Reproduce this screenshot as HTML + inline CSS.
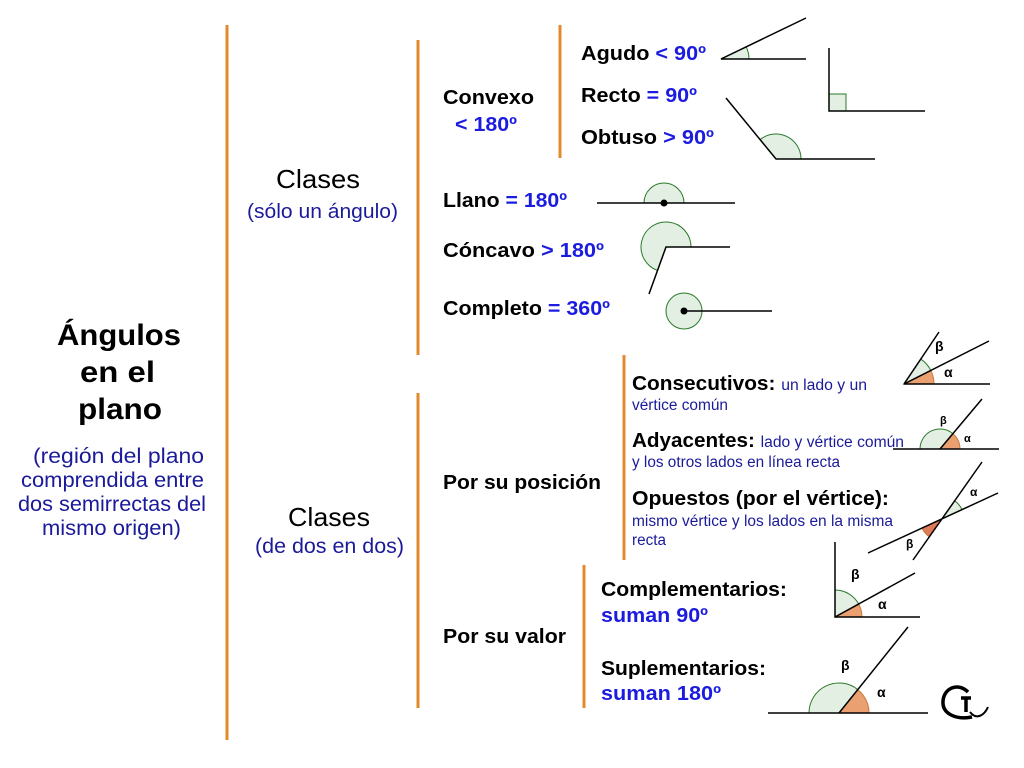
<!DOCTYPE html>
<html><head><meta charset="utf-8"><style>
html,body{margin:0;padding:0;background:#fff;}
svg{display:block}
text{font-family:"Liberation Sans",Arial,sans-serif}
.b{font-weight:bold;fill:#000;font-size:20.5px}
.v{font-weight:bold;fill:#1c1ce0}
.n{fill:#1a1a9a}
</style></head><body>
<svg width="1024" height="768" viewBox="0 0 1024 768" xmlns="http://www.w3.org/2000/svg">
<rect width="1024" height="768" fill="#fff"/>
<g stroke="#e08a2c" stroke-width="3" fill="none">
<line x1="227" y1="25" x2="227" y2="740"/>
<line x1="418" y1="40" x2="418" y2="355"/>
<line x1="418" y1="393" x2="418" y2="708"/>
<line x1="560" y1="25" x2="560" y2="158"/>
<line x1="624" y1="355" x2="624" y2="560"/>
<line x1="584" y1="565" x2="584" y2="708"/>
</g>
<text x="57" y="345" font-size="30" font-weight="bold" textLength="124" lengthAdjust="spacingAndGlyphs">Ángulos</text>
<text x="80" y="382" font-size="30" font-weight="bold" textLength="75" lengthAdjust="spacingAndGlyphs">en el</text>
<text x="78" y="419" font-size="30" font-weight="bold" textLength="84" lengthAdjust="spacingAndGlyphs">plano</text>
<text x="33" y="463" font-size="21" class="n" textLength="171" lengthAdjust="spacingAndGlyphs">(región del plano</text>
<text x="21" y="487" font-size="21" class="n" textLength="183" lengthAdjust="spacingAndGlyphs">comprendida entre</text>
<text x="18" y="511" font-size="21" class="n" textLength="188" lengthAdjust="spacingAndGlyphs">dos semirrectas del</text>
<text x="42" y="535" font-size="21" class="n" textLength="139" lengthAdjust="spacingAndGlyphs">mismo origen)</text>
<text x="276" y="188" font-size="26" textLength="84" lengthAdjust="spacingAndGlyphs">Clases</text>
<text x="247" y="218" font-size="20" class="n" textLength="151" lengthAdjust="spacingAndGlyphs">(sólo un ángulo)</text>
<text x="288" y="526" font-size="26" textLength="82" lengthAdjust="spacingAndGlyphs">Clases</text>
<text x="255" y="553" font-size="21" class="n" textLength="149" lengthAdjust="spacingAndGlyphs">(de dos en dos)</text>
<text x="443" y="104" class="b" textLength="91" lengthAdjust="spacingAndGlyphs">Convexo</text>
<text x="455" y="131" font-size="20.5" class="v" textLength="62" lengthAdjust="spacingAndGlyphs">&lt; 180º</text>
<text x="581" y="60" class="b" textLength="125" lengthAdjust="spacingAndGlyphs">Agudo <tspan class="v">&lt; 90º</tspan></text>
<text x="581" y="102" class="b" textLength="116" lengthAdjust="spacingAndGlyphs">Recto <tspan class="v">= 90º</tspan></text>
<text x="581" y="144" class="b" textLength="133" lengthAdjust="spacingAndGlyphs">Obtuso <tspan class="v">&gt; 90º</tspan></text>
<text x="443" y="207" class="b" textLength="124" lengthAdjust="spacingAndGlyphs">Llano <tspan class="v">= 180º</tspan></text>
<text x="443" y="257" class="b" textLength="161" lengthAdjust="spacingAndGlyphs">Cóncavo <tspan class="v">&gt; 180º</tspan></text>
<text x="443" y="315" class="b" textLength="167" lengthAdjust="spacingAndGlyphs">Completo <tspan class="v">= 360º</tspan></text>
<text x="632" y="390" class="b" textLength="235" lengthAdjust="spacingAndGlyphs">Consecutivos: <tspan font-size="15.5" font-weight="normal" class="n">un lado y un</tspan></text>
<text x="632" y="410" font-size="15.5" class="n" textLength="96" lengthAdjust="spacingAndGlyphs">vértice común</text>
<text x="632" y="447" class="b" textLength="272" lengthAdjust="spacingAndGlyphs">Adyacentes: <tspan font-size="15.5" font-weight="normal" class="n">lado y vértice común</tspan></text>
<text x="632" y="467" font-size="15.5" class="n" textLength="208" lengthAdjust="spacingAndGlyphs">y los otros lados en línea recta</text>
<text x="632" y="505" class="b" textLength="257" lengthAdjust="spacingAndGlyphs">Opuestos (por el vértice):</text>
<text x="632" y="526" font-size="15.5" class="n" textLength="261" lengthAdjust="spacingAndGlyphs">mismo vértice y los lados en la misma</text>
<text x="632" y="545" font-size="15.5" class="n" textLength="34" lengthAdjust="spacingAndGlyphs">recta</text>
<text x="443" y="489" class="b" textLength="158" lengthAdjust="spacingAndGlyphs">Por su posición</text>
<text x="443" y="643" class="b" textLength="123" lengthAdjust="spacingAndGlyphs">Por su valor</text>
<text x="601" y="596" class="b" textLength="186" lengthAdjust="spacingAndGlyphs">Complementarios:</text>
<text x="601" y="622" font-size="20.5" class="v" textLength="107" lengthAdjust="spacingAndGlyphs">suman 90º</text>
<text x="601" y="675" class="b" textLength="165" lengthAdjust="spacingAndGlyphs">Suplementarios:</text>
<text x="601" y="700" font-size="20.5" class="v" textLength="120" lengthAdjust="spacingAndGlyphs">suman 180º</text>

<g stroke="#2a7a2a" stroke-width="1" fill="#e3efe3">
<path d="M721,59 L749,59 A28,28 0 0 0 746.2,46.8 Z"/>
<rect x="829" y="94" width="17" height="17"/>
<path d="M776,159 L801,159 A25,25 0 0 0 760.2,139.6 Z"/>
<path d="M644,203 A20,20 0 0 1 684,203 Z"/>
<path d="M666,247 L691,247 A25,25 0 1 0 657.5,270.5 Z"/>
<circle cx="684" cy="311" r="18"/>
<path d="M904,384 L930.8,370.5 A30,30 0 0 0 920.8,359.1 Z"/>
<path d="M940,449 L952.9,433.7 A20,20 0 0 0 920,449 Z"/>
<path d="M942,518.8 L962,509.6 A22,22 0 0 0 954.7,500.8 Z"/>
<path d="M835,617 L859,604.6 A27,27 0 0 0 835,590 Z"/>
<path d="M839,713 L857.8,689.6 A30,30 0 0 0 809,713 Z"/>
</g>
<g stroke="#c87a3a" stroke-width="1" fill="#eaa070">
<path d="M904,384 L934,384 A30,30 0 0 0 930.8,370.5 Z"/>
<path d="M940,449 L960,449 A20,20 0 0 0 952.9,433.7 Z"/>
<path d="M942,518.8 L922,528 A22,22 0 0 0 929.3,536.8 Z" fill="#e07a5a"/>
<path d="M835,617 L862,617 A27,27 0 0 0 859,604.6 Z"/>
<path d="M839,713 L869,713 A30,30 0 0 0 857.8,689.6 Z"/>
</g>
<g stroke="#000" stroke-width="1.5" fill="none">
<polyline points="806,18 721,59 806,59"/>
<polyline points="829,48 829,111 925,111"/>
<polyline points="726,98 776,159 875,159"/>
<line x1="597" y1="203" x2="735" y2="203"/>
<polyline points="730,247 666,247 649,294"/>
<line x1="684" y1="311" x2="772" y2="311"/>
<polyline points="990,384 904,384 989,341"/>
<line x1="904" y1="384" x2="939" y2="332"/>
<line x1="893" y1="449" x2="999" y2="449"/>
<line x1="940" y1="449" x2="982" y2="399"/>
<line x1="868" y1="553" x2="998" y2="493"/>
<line x1="913" y1="560" x2="982" y2="462"/>
<polyline points="835,542 835,617 920,617"/>
<line x1="835" y1="617" x2="915" y2="573"/>
<line x1="768" y1="713" x2="928" y2="713"/>
<line x1="839" y1="713" x2="908" y2="627"/>
</g>
<circle cx="664" cy="203" r="3.5" fill="#000"/>
<circle cx="684" cy="311" r="3.5" fill="#000"/>
<g font-size="14" font-weight="bold">
<text x="935" y="351">β</text><text x="944" y="377">α</text>
<text x="940" y="424" font-size="11">β</text><text x="964" y="442" font-size="11">α</text>
<text x="970" y="496" font-size="12">α</text><text x="906" y="548" font-size="12">β</text>
<text x="851" y="579">β</text><text x="878" y="609">α</text>
<text x="841" y="670">β</text><text x="877" y="697">α</text>
</g>
<g stroke="#000" stroke-width="3.5" fill="none">
<path d="M968,692 C958,682 944,688 943,701 C942,714 956,720 972,717"/>
<line x1="961" y1="698" x2="971" y2="698"/><line x1="966" y1="698" x2="966" y2="712"/>
<path d="M970,712 C976,720 984,716 988,707" stroke-width="2"/>
</g>
</svg>
</body></html>
